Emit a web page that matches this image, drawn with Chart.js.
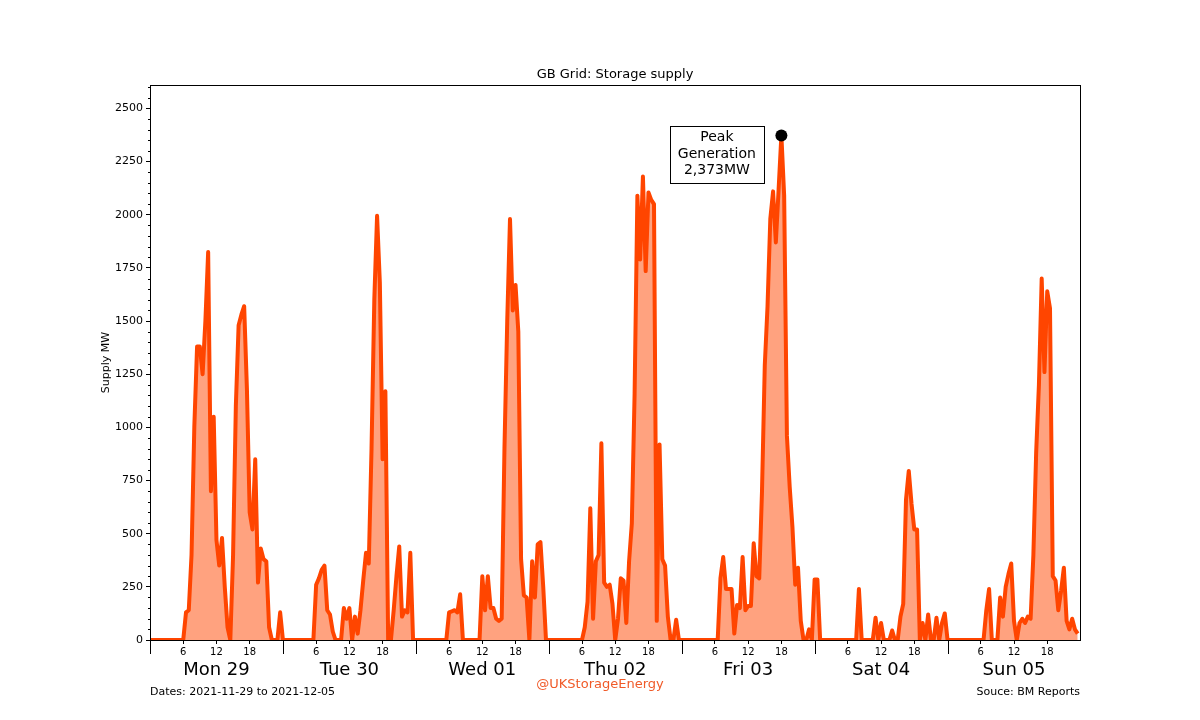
<!DOCTYPE html>
<html>
<head>
<meta charset="utf-8">
<script src="https://cdn.jsdelivr.net/npm/chart.js@4.4.0/dist/chart.umd.min.js"></script>
<style>
html, body { margin: 0; padding: 0; background: #fff; }
</style>
</head>
<body>
<canvas id="storageChart" width="1200" height="720"></canvas>
<script>
// half-hourly storage supply (MW), one array per day, from 00:00 to 23:30
const mon29 = [0,0,0,0,0,0,0,0,0,0,0,0,0,
  130,140,400,1000,1380,1380,1250,1500,1825,700,1050,470,350,480,250,60,0,400,1100,1480,
  1530,1570,1180,600,520,850,270,430,380,370,60,0,0,0,130];
const tue30 = [0,0,0,0,0,0,0,0,0,0,0,0,
  260,290,330,350,140,120,40,0,0,0,150,100,150,0,110,30,140,280,410,360,
  900,1600,1995,1680,850,1170,0,0,140,300,440,110,140,130,410,0];
const wed01 = [0,0,0,0,0,0,0,0,0,0,0,0,
  130,135,140,130,215,0,0,0,0,0,0,0,300,140,300,150,150,100,90,100,
  900,1500,1980,1550,1670,1450,380,210,200,0,370,200,450,460,250,0];
const thu02 = [0,0,0,0,0,0,0,0,0,0,0,0,0,
  60,180,620,100,370,400,925,270,250,260,170,0,100,290,280,80,370,550,1160,2090,
  1790,2180,1735,2105,2070,2050,90,920,380,350,110,0,0,95,0];
const fri03 = [0,0,0,0,0,0,0,0,0,0,0,0,0,0,
  290,390,240,240,240,30,165,150,390,140,160,160,455,300,290,700,1290,1570,1980,2110,
  1870,2120,2373,2090,960,720,530,260,340,90,0,0,50,0];
const sat04 = [285,285,0,0,0,0,0,0,0,0,0,0,0,0,0,0,
  240,0,0,0,0,0,105,0,80,0,0,0,45,0,0,110,170,660,795,640,
  520,520,0,80,0,120,0,0,105,0,80,125];
const sun05 = [0,0,0,0,0,0,0,0,0,0,0,0,0,0,
  140,240,0,0,0,200,110,250,310,360,90,0,80,100,80,110,100,400,880,1200,
  1700,1260,1640,1560,300,280,140,230,340,90,50,100,50,30];

const dayNames = ['Mon 29', 'Tue 30', 'Wed 01', 'Thu 02', 'Fri 03', 'Sat 04', 'Sun 05'];
const hourLabels = [6, 12, 18];
const yTickValues = [0, 250, 500, 750, 1000, 1250, 1500, 1750, 2000, 2250, 2500];

const days = [mon29, tue30, wed01, thu02, fri03, sat04, sun05];
const supply = [];
days.forEach((d, di) => d.forEach((v, i) => supply.push({x: di * 24 + i / 2, y: v})));
const peak = supply.reduce((a, b) => (b.y > a.y ? b : a));
const xMax = days.length * 24 - 5 / 60;
const yMax = peak.y * 1.1;

Chart.defaults.font.family = 'DejaVu Sans';
Chart.defaults.color = '#000';

const extras = {
  id: 'extras',
  afterDraw(chart) {
    const ctx = chart.ctx, a = chart.chartArea;
    const x = chart.scales.x, y = chart.scales.y;
    ctx.save();
    ctx.strokeStyle = '#000';
    ctx.lineWidth = 1;
    ctx.strokeRect(Math.round(a.left) + 0.5, Math.round(a.top) + 0.5, Math.round(a.width), Math.round(a.height));
    ctx.beginPath();
    // long ticks at midnight
    for (let d = 0; d * 24 <= x.max; d++) {
      const px = Math.round(x.getPixelForValue(d * 24)) + 0.5;
      ctx.moveTo(px, a.bottom);
      ctx.lineTo(px, a.bottom + 14);
    }
    // minor y ticks every 50
    for (let v = 50; v <= y.max; v += 50) {
      if (v % 250 === 0) continue;
      const py = Math.round(y.getPixelForValue(v)) + 0.5;
      ctx.moveTo(a.left - 2, py);
      ctx.lineTo(a.left, py);
    }
    ctx.stroke();

    // peak note
    const pt = chart.getDatasetMeta(0).data[0];
    const cx = pt.x - 64.5;
    ctx.fillStyle = '#fff';
    ctx.fillRect(cx - 47, pt.y - 9, 94, 57);
    ctx.strokeRect(Math.round(cx - 47) + 0.5, Math.round(pt.y - 9) + 0.5, 94, 57);
    ctx.fillStyle = '#000';
    ctx.font = '14px "DejaVu Sans"';
    ctx.textAlign = 'center';
    ctx.textBaseline = 'middle';
    ['Peak', 'Generation', peak.y.toLocaleString('en-US') + 'MW'].forEach((t, i) => {
      ctx.fillText(t, cx, pt.y + 2 + i * 16.7);
    });

    // footer
    ctx.textBaseline = 'alphabetic';
    ctx.font = '11px "DejaVu Sans"';
    ctx.textAlign = 'left';
    ctx.fillText('Dates: 2021-11-29 to 2021-12-05', a.left, 695);
    ctx.textAlign = 'right';
    ctx.fillText('Souce: BM Reports', a.right, 695);
    ctx.textAlign = 'center';
    ctx.font = '13px "DejaVu Sans"';
    ctx.fillStyle = '#f05a28';
    ctx.fillText('@UKStorageEnergy', chart.width / 2, 688);
    ctx.restore();
  }
};

new Chart(document.getElementById('storageChart'), {
  type: 'line',
  data: {
    datasets: [{
      label: 'Peak',
      data: [peak],
      showLine: false,
      pointRadius: 6,
      pointBackgroundColor: '#000',
      pointBorderWidth: 0,
      order: 0
    }, {
      label: 'Storage supply',
      data: supply,
      borderColor: '#ff4500',
      backgroundColor: 'rgba(255, 69, 0, 0.5)',
      borderWidth: 4,
      borderJoinStyle: 'round',
      pointRadius: 0,
      tension: 0,
      fill: 'origin',
      clip: 0,
      order: 1
    }]
  },
  options: {
    responsive: false,
    animation: false,
    layout: { padding: { left: 95, right: 120, top: 0, bottom: 36 } },
    plugins: {
      legend: { display: false },
      tooltip: { enabled: false },
      title: {
        display: true,
        fullSize: false,
        text: 'GB Grid: Storage supply',
        font: { size: 13, weight: 'normal' },
        color: '#000',
        padding: { top: 67, bottom: 2.4 }
      }
    },
    scales: {
      x: {
        type: 'linear',
        position: 'bottom',
        min: 0,
        max: xMax,
        afterBuildTicks: s => {
          s.ticks = [];
          days.forEach((d, di) => hourLabels.forEach(h => s.ticks.push({value: di * 24 + h})));
        },
        afterFit: s => { s.height = 20; },
        ticks: {
          autoSkip: false,
          maxRotation: 0,
          padding: 2,
          font: { size: 10 },
          color: '#000',
          callback: v => String(v % 24)
        },
        grid: { drawOnChartArea: false, tickLength: 4, tickColor: '#000' },
        border: { display: false }
      },
      xDay: {
        type: 'linear',
        position: 'bottom',
        min: 0,
        max: xMax,
        afterBuildTicks: s => {
          s.ticks = dayNames.map((n, di) => ({value: di * 24 + 12}));
        },
        afterFit: s => { s.height = 24; },
        ticks: {
          autoSkip: false,
          maxRotation: 0,
          padding: 0,
          font: { size: 18 },
          color: '#000',
          callback: v => dayNames[Math.floor(v / 24)]
        },
        grid: { display: false, drawTicks: false },
        border: { display: false }
      },
      y: {
        min: 0,
        max: yMax,
        afterBuildTicks: s => { s.ticks = yTickValues.map(v => ({value: v})); },
        afterFit: s => { s.width = 55; },
        ticks: { font: { size: 11 }, color: '#000', padding: 3, callback: v => String(v) },
        grid: { drawOnChartArea: false, tickLength: 4, tickColor: '#000' },
        border: { display: false },
        title: { display: true, text: 'Supply MW', font: { size: 11 }, color: '#000', padding: { top: 5, bottom: 0 } }
      }
    }
  },
  plugins: [extras]
});
</script>
</body>
</html>
